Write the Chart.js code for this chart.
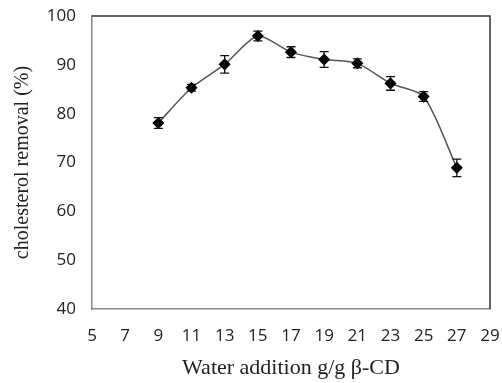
<!DOCTYPE html>
<html>
<head>
<meta charset="utf-8">
<script src="https://cdn.jsdelivr.net/npm/chart.js@4"></script>
<style>
  html, body { margin: 0; padding: 0; background: #fff; }
  #wrap { width: 502px; height: 383px; }
</style>
</head>
<body>
<div id="wrap"><canvas id="c" width="502" height="383"></canvas></div>
<script>
const waterAddition = [9, 11, 13, 15, 17, 19, 21, 23, 25, 27];
const removal = [78.1, 85.3, 90.1, 95.9, 92.6, 91.1, 90.3, 86.2, 83.5, 68.9];
const removalErr = [1.1, 0.7, 1.8, 1.0, 1.1, 1.6, 0.9, 1.4, 1.0, 1.8];

// error bars + frame on top/right
const errorBars = {
  id: 'errorBars',
  afterDatasetsDraw(chart) {
    const ctx = chart.ctx;
    const xs = chart.scales.x, ys = chart.scales.y;
    ctx.save();
    ctx.strokeStyle = '#111';
    ctx.lineWidth = 1.3;
    removal.forEach((v, i) => {
      const px = xs.getPixelForValue(waterAddition[i]);
      const top = ys.getPixelForValue(v + removalErr[i]);
      const bot = ys.getPixelForValue(v - removalErr[i]);
      ctx.beginPath();
      ctx.moveTo(px, top); ctx.lineTo(px, bot);
      ctx.moveTo(px - 4.5, top); ctx.lineTo(px + 4.5, top);
      ctx.moveTo(px - 4.5, bot); ctx.lineTo(px + 4.5, bot);
      ctx.stroke();
    });
    const a = chart.chartArea;
    ctx.strokeStyle = '#333';
    ctx.lineWidth = 1.5;
    ctx.beginPath();
    ctx.moveTo(a.left, a.top); ctx.lineTo(a.right, a.top); ctx.lineTo(a.right, a.bottom);
    ctx.stroke();
    ctx.restore();
  }
};

new Chart(document.getElementById('c'), {
  type: 'line',
  data: {
    datasets: [{
      data: waterAddition.map((x, i) => ({ x: x, y: removal[i] })),
      borderColor: '#555',
      borderWidth: 1.5,
      tension: 0.25,
      pointStyle: 'rectRot',
      pointRadius: 5,
      pointBackgroundColor: '#000',
      pointBorderColor: '#000'
    }]
  },
  options: {
    responsive: false,
    animation: false,
    layout: { padding: { top: 16, right: 12, left: 0, bottom: 0 } },
    plugins: { legend: { display: false }, tooltip: { enabled: false } },
    scales: {
      x: {
        type: 'linear',
        min: 5, max: 29,
        afterFit: s => { s.height = 74; s.paddingLeft = 0; s.paddingRight = 0; },
        ticks: { stepSize: 2, color: '#222', font: { family: 'Open Sans', size: 17 }, padding: 11, maxRotation: 0 },
        grid: { display: false, drawOnChartArea: false, drawTicks: true, tickLength: 6, tickColor: '#888' },
        border: { display: true, color: '#888', width: 1.5 },
        title: { display: true, text: 'Water addition g/g β-CD', color: '#222', font: { family: 'Liberation Serif', size: 22 }, padding: { top: 2, bottom: 2 } }
      },
      y: {
        min: 40, max: 100,
        afterFit: s => { s.width = 92; s.paddingTop = 0; s.paddingBottom = 0; },
        ticks: { stepSize: 10, color: '#222', font: { family: 'Open Sans', size: 17 }, padding: 9 },
        grid: { display: false, drawOnChartArea: false, drawTicks: true, tickLength: 7, tickColor: '#888' },
        border: { display: true, color: '#888', width: 1.5 },
        title: { display: true, text: 'cholesterol removal (%)', color: '#222', font: { family: 'Liberation Serif', size: 20 }, padding: { top: 11, bottom: 4 } }
      }
    }
  },
  plugins: [errorBars]
});
</script>
</body>
</html>
